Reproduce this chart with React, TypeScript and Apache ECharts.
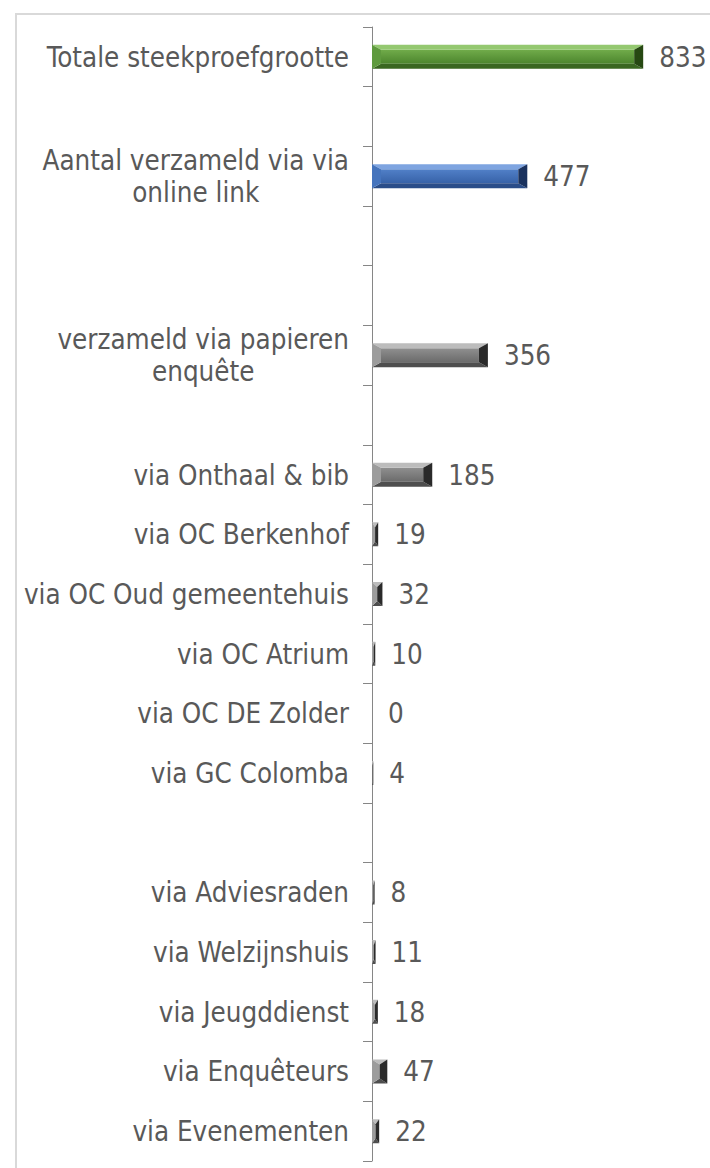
import React, { useEffect, useRef } from 'react';
import * as echarts from 'echarts';

const categories: string[] = [
  'Totale steekproefgrootte',
  '',
  'Aantal verzameld via via\nonline link',
  '',
  '',
  'verzameld via papieren\nenquête',
  '',
  'via Onthaal & bib',
  'via OC Berkenhof',
  'via OC Oud gemeentehuis',
  'via OC Atrium',
  'via OC DE Zolder',
  'via GC Colomba',
  '',
  'via Adviesraden',
  'via Welzijnshuis',
  'via Jeugddienst',
  'via Enquêteurs',
  'via Evenementen',
];

const values: (number | null)[] = [
  833, null, 477, null, null, 356, null, 185, 19, 32, 10, 0, 4, null, 8, 11, 18, 47, 22,
];

const xMin = 0;
const xMax = 900;

const FONT = "'DejaVu Sans Condensed', 'DejaVu Sans', sans-serif";
const TEXT = '#595959';
const FS = 27.5;

const TONES: Record<string, { top: string; faceA: string; faceB: string; bottom: string; left: string; right: string }> = {
  green: { top: '#94c870', faceA: '#70ab4a', faceB: '#4c852d', bottom: '#3a6721', left: '#5f9a3e', right: '#264812' },
  blue: { top: '#7ea4e0', faceA: '#5180c8', faceB: '#3762a8', bottom: '#2a4d89', left: '#4574bd', right: '#1a325e' },
  gray: { top: '#bcbcbc', faceA: '#8f8f8f', faceB: '#6b6b6b', bottom: '#4e4e4e', left: '#9c9c9c', right: '#2a2a2a' },
};

function toneFor(idx: number): string {
  if (idx === 0) return 'green';
  if (idx === 2) return 'blue';
  return 'gray';
}

export default function App() {
  const ref = useRef<HTMLDivElement>(null);

  useEffect(() => {
    if (!ref.current) return;
    const chart = echarts.init(ref.current, undefined, { renderer: 'svg' });

    const data = values
      .map((v, i) => (v === null ? null : [v, i]))
      .filter((d) => d !== null) as number[][];

    const option: any = {
      animation: false,
      backgroundColor: '#ffffff',
      grid: { left: 372, top: 27, bottom: 7, width: 293, containLabel: false, outerBoundsMode: 'none' },
      xAxis: { type: 'value', min: xMin, max: xMax, show: false },
      yAxis: {
        type: 'category',
        data: categories,
        inverse: true,
        axisLine: { show: true, lineStyle: { color: '#868686', width: 1 } },
        axisTick: { show: true, length: 9, lineStyle: { color: '#868686', width: 1 } },
        splitLine: { show: false },
        axisLabel: {
          interval: 0,
          margin: 23,
          formatter: (s: string) =>
            s ? s.split('\n').map((l) => `{c|${l}}`).join('\n') : '',
          rich: {
            c: { align: 'center', fontSize: FS, fontFamily: FONT, color: TEXT, lineHeight: 32 },
          },
        },
      },
      graphic: [
        {
          type: 'rect',
          z: -10,
          shape: { x: 16, y: 14, width: 760, height: 1200 },
          style: { fill: 'none', stroke: '#d9d9d9', lineWidth: 2 },
          silent: true,
        },
      ],
      series: [
        {
          type: 'custom',
          data,
          encode: { x: 0, y: 1 },
          renderItem: (params: any, api: any) => {
            const v = api.value(0) as number;
            const ci = api.value(1) as number;
            const p0 = api.coord([0, ci]);
            const p1 = api.coord([v, ci]);
            const h = 24;
            const x0 = p0[0];
            const x1 = p1[0];
            const yc = p0[1];
            const t = yc - h / 2;
            const b = yc + h / 2;
            const w = x1 - x0;
            const tone = TONES[toneFor(ci)];
            const label = {
              type: 'text',
              x: x1 + 16,
              y: yc,
              style: {
                text: String(v),
                fill: TEXT,
                fontSize: FS,
                fontFamily: FONT,
                align: 'left',
                verticalAlign: 'middle',
              },
            };
            if (w <= 0) return { type: 'group', children: [label] };
            const bx = Math.min(9, w / 2);
            const by = 5;
            const children: any[] = [
              {
                type: 'polygon',
                shape: { points: [[x0 + bx, t + by], [x1 - bx, t + by], [x1 - bx, b - by], [x0 + bx, b - by]] },
                style: {
                  fill: new echarts.graphic.LinearGradient(0, 0, 0, 1, [
                    { offset: 0, color: tone.faceA },
                    { offset: 1, color: tone.faceB },
                  ]),
                },
              },
              {
                type: 'polygon',
                shape: { points: [[x0, t], [x1, t], [x1 - bx, t + by], [x0 + bx, t + by]] },
                style: { fill: tone.top },
              },
              {
                type: 'polygon',
                shape: { points: [[x0, b], [x1, b], [x1 - bx, b - by], [x0 + bx, b - by]] },
                style: { fill: tone.bottom },
              },
              {
                type: 'polygon',
                shape: { points: [[x0, t], [x0 + bx, t + by], [x0 + bx, b - by], [x0, b]] },
                style: { fill: tone.left },
              },
              {
                type: 'polygon',
                shape: { points: [[x1, t], [x1 - bx, t + by], [x1 - bx, b - by], [x1, b]] },
                style: { fill: tone.right },
              },
              label,
            ];
            return { type: 'group', children };
          },
        },
      ],
    };

    chart.setOption(option);
    return () => chart.dispose();
  }, []);

  return (
    <div
      ref={ref}
      style={{ position: 'absolute', left: 0, top: 0, width: 710, height: 1168, background: '#fff' }}
    />
  );
}
